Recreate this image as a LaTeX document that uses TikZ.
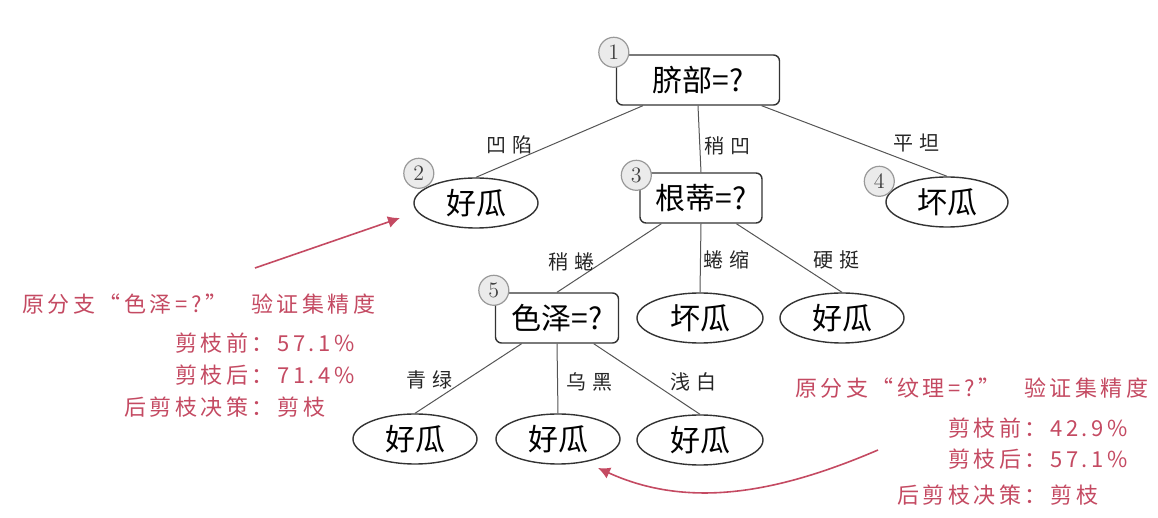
\documentclass[tikz,border=0pt]{standalone}
\usepackage{fontspec}
\usepackage{tikz}
\usetikzlibrary{arrows.meta,shapes.geometric}
\newfontfamily\cjk{Noto Sans CJK SC}
\newfontfamily\cjklabel[LetterSpace=30]{Noto Sans CJK SC}
\newfontfamily\cjknote[LetterSpace=16]{Noto Sans CJK SC}
\definecolor{notered}{RGB}{196,74,98}
\definecolor{edgegray}{RGB}{85,85,85}
\tikzset{
  testbox/.style={draw=black!80,line width=0.7pt,rounded corners=3pt,minimum height=25pt,
    inner sep=2pt,font=\cjk\fontsize{15}{15}\selectfont},
  leafnode/.style={ellipse,draw=black!80,line width=0.7pt,minimum width=62pt,
    minimum height=25pt,inner sep=0pt,font=\cjk\fontsize{15}{15}\selectfont},
  numcircle/.style={circle,draw=black!40,fill=black!8,line width=0.6pt,minimum size=15pt,
    inner sep=0pt,font=\fontsize{11}{11}\selectfont,text=black!75},
  branch/.style={draw=edgegray,line width=0.5pt},
  branchlabel/.style={font=\cjklabel\fontsize{10}{10}\selectfont,inner sep=0pt,text=black!85},
  notetext/.style={font=\cjknote\fontsize{11}{11}\selectfont,text=notered,inner sep=0pt,anchor=west},
  notearrow/.style={-{Latex[length=6pt,width=6pt]},draw=notered,line width=0.8pt}
}

\begin{document}
\begin{tikzpicture}[x=0.5pt,y=-0.5pt]
  \useasboundingbox (0,0) rectangle (1158,518);
  \node[testbox,minimum width=81.5pt] (qb) at (698,80) {脐部=?};
  \node[leafnode] (hg1) at (476,203) {好瓜};
  \node[testbox,minimum width=61pt] (gd) at (701,198) {根蒂=?};
  \node[leafnode,minimum width=61pt] (bg1) at (947,202) {坏瓜};
  \node[testbox,minimum width=61.5pt] (sz) at (557,318) {色泽=?};
  \node[leafnode,minimum width=63pt] (bg2) at (700,318) {坏瓜};
  \node[leafnode] (hg2) at (842,318) {好瓜};
  \node[leafnode] (hg3) at (415,439) {好瓜};
  \node[leafnode] (hg4) at (558,439) {好瓜};
  \node[leafnode,minimum width=63pt] (hg5) at (700,440) {好瓜};

  \draw[branch] (qb.205) -- node[branchlabel,pos=0.55,left=9pt] {凹陷} (hg1.north);
  \draw[branch] (qb.south) -- node[branchlabel,pos=0.6,right=2pt] {稍凹} (gd.north);
  \draw[branch] (qb.338) -- node[branchlabel,pos=0.53,right=16.5pt] {平坦} (bg1.north);
  \draw[branch] (gd.213) -- node[branchlabel,pos=0.56,left=4pt] {稍蜷} (sz.north);
  \draw[branch] (gd.south) -- node[branchlabel,pos=0.53,right=1.5pt] {蜷缩} (bg2.north);
  \draw[branch] (gd.324) -- node[branchlabel,pos=0.53,right=10.5pt] {硬挺} (hg2.north);
  \draw[branch] (sz.216) -- node[branchlabel,pos=0.52,left=6.5pt] {青绿} (hg3.north);
  \draw[branch] (sz.south) -- node[branchlabel,pos=0.55,right=4pt] {乌黑} (hg4.north);
  \draw[branch] (sz.325) -- node[branchlabel,pos=0.54,right=9.5pt] {浅白} (hg5.north);

  \node[numcircle,xshift=-1pt,yshift=1pt] (n1) at (qb.north west) {1};
  \node[numcircle,xshift=2.75pt,yshift=2pt] (n2) at (hg1.west |- hg1.north) {2};
  \node[numcircle,xshift=-1.5pt,yshift=-1.5pt] (n3) at (gd.north west) {3};
  \node[numcircle,xshift=-3pt,yshift=-2.5pt] (n4) at (bg1.west |- bg1.north) {4};
  \node[numcircle,xshift=-0.5pt,yshift=1pt] (n5) at (sz.north west) {5};

  \node[notetext] (szhead) at (22,304) {原分支“色泽=?”\hspace{12pt}验证集精度};
  \node[notetext] (szbefore) at (175,343) {剪枝前：57.1\%};
  \node[notetext] (szafter) at (175,375) {剪枝后：71.4\%};
  \node[notetext] (szdecide) at (124,407) {后剪枝决策：剪枝};
  \node[notetext] (wlhead) at (795,388) {原分支“纹理=?”\hspace{12pt}验证集精度};
  \node[notetext] (wlbefore) at (948,428) {剪枝前：42.9\%};
  \node[notetext] (wlafter) at (948,459) {剪枝后：57.1\%};
  \node[notetext] (wldecide) at (897,495) {后剪枝决策：剪枝};

  \coordinate (szfrom) at (255,268);
  \coordinate (szto) at (400,218);
  \draw[notearrow] (szfrom) -- (szto);
  \coordinate (wlfrom) at (878,450);
  \coordinate (wlto) at (598,468);
  \draw[notearrow] (wlfrom) .. controls (780,492) and (690,510) .. (wlto);
\end{tikzpicture}
\end{document}
